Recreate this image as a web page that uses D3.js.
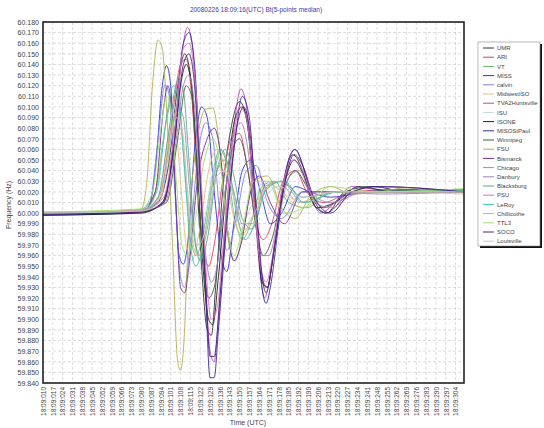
<!DOCTYPE html>
<html>
<head>
<meta charset="utf-8">
<script src="https://d3js.org/d3.v7.min.js"></script>
<style>
  body { margin: 0; background: #fff; }
  text { font-family: "Liberation Sans", Arial, sans-serif; }
</style>
</head>
<body>
<div id="chart"></div>
<script>
// Chart size matches the window
var svgWidth = 544;
var svgHeight = 428;

var chartMargin = { top: 22, right: 80, bottom: 45, left: 43 };
var chartWidth = 464 - chartMargin.left;
var chartHeight = 383 - chartMargin.top;

var titleText = "20080226 18:09:16(UTC) Bt(5-points median)";

// x tick values (tenths of a second after 18:09:00) and their labels
var xTicks = [10, 17, 24, 31, 38, 45, 52, 59, 66, 73, 80, 87, 94, 101, 108, 115, 122, 129,
  136, 143, 150, 157, 164, 171, 178, 185, 192, 199, 206, 213, 220, 227, 234, 241, 248,
  255, 262, 269, 276, 283, 290, 297, 304];
var xTickLabels = xTicks.map(t => "18:09:" + d3.format("03d")(t));

// y ticks 60.180 .. 59.840
var yTicks = [60.18, 60.17, 60.16, 60.15, 60.14, 60.13, 60.12, 60.11, 60.10, 60.09, 60.08,
  60.07, 60.06, 60.05, 60.04, 60.03, 60.02, 60.01, 60.00, 59.99, 59.98, 59.97, 59.96, 59.95,
  59.94, 59.93, 59.92, 59.91, 59.90, 59.89, 59.88, 59.87, 59.86, 59.85, 59.84];

// station names and colours (legend order)
var stations = ["UMR", "ARI", "VT", "MISS", "calvin", "MidwestISO", "TVA2Huntsville", "ISU",
  "ISONE", "MISOStPaul", "Winnipeg", "FSU", "Bismarck", "Chicago", "Danbury", "Blacksburg",
  "PSU", "LeRoy", "Chillicothe", "TTL3", "SOCO", "Louisville"];
var stationColors = ["#333333", "#e04060", "#60c060", "#3030d0", "#8080e0", "#e0c080",
  "#c040c0", "#b8dada", "#202020", "#303090", "#406040", "#b0b050", "#703090", "#80a0a0",
  "#a080c0", "#60a090", "#e070c0", "#40c0b0", "#d0b080", "#a0e070", "#502080", "#c8c8c8"];

// key points: [time, frequency]
var UMR = [[10,60.0],[80,60.002],[92,60.01],[100,60.05],[106,60.12],[111,60.15],[115,60.13],[119,60.05],[123,59.95],[127,59.89],[130,59.885],[133,59.93],[138,60.02],[144,60.08],[150,60.105],[155,60.09],[160,60.02],[165,59.95],[169,59.925],[173,59.95],[180,60.02],[188,60.055],[195,60.04],[202,60.01],[212,60.0],[225,60.02],[245,60.025],[270,60.02],[310,60.02]];
var ARI = [[10,59.999],[80,60.001],[94,60.02],[102,60.09],[108,60.14],[112,60.145],[116,60.11],[120,60.03],[124,59.97],[128,59.95],[132,59.97],[138,60.03],[144,60.07],[150,60.075],[156,60.04],[162,59.99],[167,59.975],[173,59.99],[181,60.03],[190,60.04],[198,60.02],[210,60.01],[230,60.02],[260,60.022],[310,60.02]];
var VT = [[10,60.0],[80,60.003],[90,60.02],[97,60.08],[103,60.11],[107,60.1],[111,60.04],[115,59.98],[119,59.96],[124,59.98],[130,60.03],[136,60.06],[141,60.045],[146,60.0],[152,59.975],[158,59.99],[166,60.025],[175,60.03],[185,60.01],[198,60.005],[215,60.02],[245,60.02],[310,60.022]];
var MISS = [[10,59.998],[70,60.0],[85,60.005],[90,60.04],[95,60.12],[98,60.139],[101,60.12],[104,60.03],[107,59.96],[110,59.952],[113,59.97],[118,60.06],[123,60.10],[127,60.09],[132,60.02],[137,59.96],[141,59.945],[146,59.99],[152,60.04],[158,60.05],[165,60.02],[172,59.99],[180,60.0],[190,60.025],[200,60.02],[215,60.015],[240,60.02],[270,60.022],[310,60.02]];
var calvin = [[10,59.999],[75,60.001],[86,60.01],[92,60.07],[97,60.121],[100,60.11],[104,60.02],[108,59.94],[111,59.93],[114,59.96],[120,60.05],[126,60.085],[131,60.07],[136,60.0],[141,59.965],[147,59.99],[155,60.04],[162,60.045],[170,60.01],[180,59.995],[195,60.02],[215,60.02],[250,60.018],[310,60.02]];
var MidwestISO = [[10,60.0],[80,60.002],[88,60.01],[95,60.06],[100,60.1],[104,60.09],[108,60.03],[112,59.97],[116,59.955],[121,59.98],[128,60.04],[134,60.06],[140,60.04],[146,59.995],[152,59.98],[160,60.0],[170,60.03],[180,60.02],[195,60.005],[215,60.02],[250,60.02],[310,60.018]];
var TVA2Huntsville = [[10,59.999],[80,60.001],[95,60.01],[103,60.06],[109,60.15],[113,60.175],[117,60.15],[121,60.06],[125,59.96],[129,59.87],[132,59.86],[135,59.9],[140,59.99],[146,60.08],[151,60.117],[155,60.1],[160,60.02],[165,59.94],[168,59.92],[171,59.935],[177,59.99],[184,60.045],[189,60.06],[194,60.05],[200,60.02],[208,60.0],[218,60.01],[230,60.025],[250,60.022],[310,60.02]];
var ISU = [[10,60.0],[80,60.002],[92,60.015],[99,60.07],[104,60.1],[108,60.085],[112,60.02],[116,59.975],[120,59.97],[126,60.0],[133,60.045],[139,60.04],[145,60.005],[151,59.99],[158,60.005],[168,60.03],[180,60.02],[195,60.01],[220,60.02],[310,60.02]];
var ISONE = [[10,59.998],[80,60.0],[95,60.01],[103,60.06],[108,60.12],[112,60.14],[116,60.12],[120,60.04],[124,59.95],[128,59.9],[131,59.895],[135,59.94],[141,60.03],[147,60.09],[152,60.1],[157,60.07],[162,59.99],[166,59.935],[170,59.93],[174,59.96],[181,60.02],[189,60.05],[196,60.035],[205,60.005],[218,60.01],[235,60.025],[260,60.02],[310,60.02]];
var MISOStPaul = [[10,59.999],[80,60.001],[96,60.01],[104,60.08],[110,60.16],[114,60.17],[118,60.14],[122,60.04],[126,59.92],[129,59.845],[132,59.845],[135,59.89],[141,59.99],[147,60.07],[152,60.11],[157,60.09],[162,60.0],[166,59.93],[169,59.915],[172,59.93],[178,59.99],[185,60.05],[190,60.06],[195,60.045],[202,60.015],[212,60.0],[225,60.015],[245,60.025],[310,60.02]];
var Winnipeg = [[10,60.0],[80,60.002],[98,60.01],[106,60.07],[112,60.12],[116,60.11],[120,60.04],[124,59.96],[128,59.92],[132,59.93],[138,60.0],[145,60.06],[150,60.07],[156,60.04],[162,59.985],[167,59.96],[173,59.975],[181,60.02],[190,60.04],[198,60.025],[210,60.005],[230,60.02],[310,60.022]];
var FSU = [[10,60.0],[60,60.001],[80,60.004],[84,60.03],[88,60.12],[92,60.163],[95,60.155],[98,60.10],[102,59.98],[106,59.86],[108,59.852],[110,59.87],[114,59.99],[120,60.07],[126,60.098],[131,60.099],[136,60.06],[142,59.975],[147,59.955],[152,59.98],[160,60.03],[170,60.035],[180,60.005],[190,59.995],[200,60.015],[215,60.025],[230,60.018],[250,60.02],[270,60.024],[290,60.02],[310,60.022]];
var Bismarck = [[10,60.0],[80,60.001],[90,60.02],[96,60.1],[99,60.12],[102,60.09],[105,60.0],[108,59.93],[111,59.925],[114,59.95],[120,60.03],[127,60.07],[132,60.08],[136,60.06],[141,59.99],[146,59.955],[151,59.97],[158,60.02],[164,60.035],[172,60.01],[182,59.99],[195,60.02],[215,60.02],[250,60.02],[310,60.02]];
var Chicago = [[10,60.0],[80,60.002],[94,60.015],[101,60.07],[106,60.1],[110,60.09],[114,60.03],[118,59.975],[122,59.96],[127,59.985],[134,60.04],[140,60.05],[146,60.02],[152,59.99],[159,59.99],[168,60.025],[180,60.03],[195,60.01],[220,60.02],[310,60.02]];
var Danbury = [[10,60.0],[80,60.002],[97,60.01],[105,60.07],[110,60.12],[114,60.13],[118,60.1],[122,60.02],[126,59.96],[130,59.935],[134,59.95],[140,60.02],[146,60.075],[151,60.085],[156,60.06],[161,60.0],[166,59.96],[171,59.96],[177,59.99],[186,60.035],[193,60.04],[200,60.02],[215,60.01],[240,60.02],[310,60.02]];
var Blacksburg = [[10,60.0],[80,60.002],[92,60.015],[100,60.08],[106,60.125],[110,60.115],[114,60.05],[118,59.98],[122,59.955],[127,59.975],[134,60.04],[140,60.06],[146,60.035],[152,59.995],[159,59.985],[168,60.02],[180,60.03],[195,60.015],[220,60.02],[310,60.02]];
var PSU = [[10,60.0],[80,60.002],[96,60.015],[104,60.08],[110,60.155],[114,60.16],[118,60.13],[122,60.05],[126,59.95],[130,59.9],[134,59.91],[139,59.98],[145,60.06],[150,60.1],[155,60.09],[160,60.02],[165,59.95],[169,59.935],[173,59.955],[180,60.02],[188,60.05],[195,60.04],[204,60.01],[215,60.005],[235,60.02],[310,60.02]];
var LeRoy = [[10,60.0],[80,60.002],[91,60.02],[98,60.09],[103,60.12],[107,60.105],[111,60.04],[115,59.97],[119,59.95],[124,59.97],[131,60.03],[137,60.06],[142,60.045],[148,60.0],[154,59.975],[161,59.99],[170,60.025],[182,60.03],[196,60.01],[220,60.02],[310,60.021]];
var Chillicothe = [[10,60.001],[80,60.003],[93,60.015],[100,60.07],[105,60.095],[109,60.08],[113,60.02],[117,59.97],[121,59.96],[126,59.985],[133,60.04],[139,60.05],[145,60.02],[151,59.985],[158,59.985],[167,60.02],[178,60.03],[192,60.01],[215,60.02],[310,60.02]];
var TTL3 = [[10,60.001],[80,60.004],[88,60.02],[94,60.08],[98,60.11],[101,60.1],[105,60.03],[109,59.97],[113,59.96],[118,59.99],[125,60.05],[131,60.07],[137,60.04],[142,59.98],[146,59.96],[152,59.985],[160,60.03],[170,60.03],[182,60.0],[196,60.005],[215,60.025],[245,60.02],[310,60.023]];
var SOCO = [[10,59.999],[80,60.001],[96,60.01],[104,60.07],[110,60.14],[114,60.15],[118,60.12],[122,60.03],[126,59.93],[129,59.865],[132,59.865],[136,59.92],[142,60.01],[148,60.08],[153,60.1],[158,60.07],[163,59.99],[167,59.935],[170,59.93],[174,59.96],[181,60.02],[189,60.055],[195,60.045],[203,60.015],[215,60.0],[230,60.02],[250,60.025],[310,60.02]];
var Louisville = [[10,60.0],[80,60.002],[93,60.01],[100,60.06],[105,60.09],[109,60.08],[113,60.02],[117,59.975],[121,59.97],[127,59.99],[134,60.035],[140,60.04],[147,60.01],[155,59.99],[165,60.01],[178,60.025],[195,60.015],[220,60.02],[310,60.02]];

var seriesData = [UMR, ARI, VT, MISS, calvin, MidwestISO, TVA2Huntsville, ISU, ISONE,
  MISOStPaul, Winnipeg, FSU, Bismarck, Chicago, Danbury, Blacksburg, PSU, LeRoy,
  Chillicothe, TTL3, SOCO, Louisville];

var svg = d3.select("#chart")
  .append("svg")
  .attr("width", svgWidth)
  .attr("height", svgHeight);

var chartGroup = svg.append("g")
  .attr("transform", `translate(${chartMargin.left}, ${chartMargin.top})`);

var xScale = d3.scaleLinear().domain([10, 310]).range([0, chartWidth]);
var yScale = d3.scaleLinear().domain([59.84, 60.18]).range([chartHeight, 0]);

// grid
chartGroup.append("g")
  .selectAll("line")
  .data(yTicks)
  .enter()
  .append("line")
  .attr("x1", 0).attr("x2", chartWidth)
  .attr("y1", d => yScale(d)).attr("y2", d => yScale(d))
  .attr("stroke", "#c4c4c4")
  .attr("stroke-dasharray", "3,2")
  .attr("stroke-width", 0.6);

chartGroup.append("g")
  .selectAll("line")
  .data(xTicks)
  .enter()
  .append("line")
  .attr("x1", d => xScale(d)).attr("x2", d => xScale(d))
  .attr("y1", 0).attr("y2", chartHeight)
  .attr("stroke", "#c4c4c4")
  .attr("stroke-dasharray", "3,2")
  .attr("stroke-width", 0.6);

// lines
var line = d3.line()
  .x(d => xScale(d[0]))
  .y(d => yScale(d[1]))
  .curve(d3.curveMonotoneX);

chartGroup.append("g")
  .selectAll("path")
  .data(seriesData)
  .enter()
  .append("path")
  .attr("d", d => line(d))
  .attr("fill", "none")
  .attr("stroke", (d, i) => stationColors[i])
  .attr("stroke-width", 0.9);

// frame
chartGroup.append("rect")
  .attr("width", chartWidth)
  .attr("height", chartHeight)
  .attr("fill", "none")
  .attr("stroke", "#222")
  .attr("stroke-width", 1.6);

// axes
var leftAxis = d3.axisLeft(yScale)
  .tickValues(yTicks)
  .tickFormat(d3.format(".3f"))
  .tickSize(0)
  .tickPadding(4);

var yAxisG = chartGroup.append("g").call(leftAxis);
yAxisG.select(".domain").remove();
yAxisG.selectAll("text")
  .attr("font-size", "7px")
  .attr("fill", "#444");

var bottomAxis = d3.axisBottom(xScale)
  .tickValues(xTicks)
  .tickFormat((d, i) => xTickLabels[i])
  .tickSize(0);

var xAxisG = chartGroup.append("g")
  .attr("transform", `translate(0, ${chartHeight})`)
  .call(bottomAxis);
xAxisG.select(".domain").remove();
xAxisG.selectAll("text")
  .attr("font-size", "6.5px")
  .attr("fill", "#444")
  .attr("text-anchor", "end")
  .attr("transform", "rotate(-90)")
  .attr("x", -4)
  .attr("y", 0)
  .attr("dy", "0.35em");

// axis titles
svg.append("text")
  .attr("x", 248)
  .attr("y", 425)
  .attr("text-anchor", "middle")
  .attr("font-size", "7px")
  .attr("fill", "#444")
  .text("Time (UTC)");

svg.append("text")
  .attr("transform", "translate(11, 205) rotate(-90)")
  .attr("text-anchor", "middle")
  .attr("font-size", "7px")
  .attr("fill", "#444")
  .text("Frequency (Hz)");

// chart title
svg.append("text")
  .attr("x", 256)
  .attr("y", 12)
  .attr("text-anchor", "middle")
  .attr("font-size", "6.5px")
  .attr("fill", "#3a3ab0")
  .text(titleText);

// legend
var legend = svg.append("g").attr("transform", "translate(478, 42)");
legend.append("rect")
  .attr("x", 2).attr("y", 2)
  .attr("width", 62).attr("height", 204)
  .attr("fill", "#111");
legend.append("rect")
  .attr("width", 62).attr("height", 204)
  .attr("fill", "#fff")
  .attr("stroke", "#888")
  .attr("stroke-width", 0.6);

var items = legend.selectAll(".item")
  .data(stations)
  .enter()
  .append("g")
  .attr("transform", (d, i) => `translate(0, ${6 + i * 9.2})`);

items.append("line")
  .attr("x1", 5).attr("x2", 16)
  .attr("y1", 0).attr("y2", 0)
  .attr("stroke", (d, i) => stationColors[i])
  .attr("stroke-width", 1);

items.append("text")
  .attr("x", 19)
  .attr("y", 0)
  .attr("dy", "0.35em")
  .attr("font-size", "6px")
  .attr("fill", "#444")
  .text(d => d);
</script>
</body>
</html>
